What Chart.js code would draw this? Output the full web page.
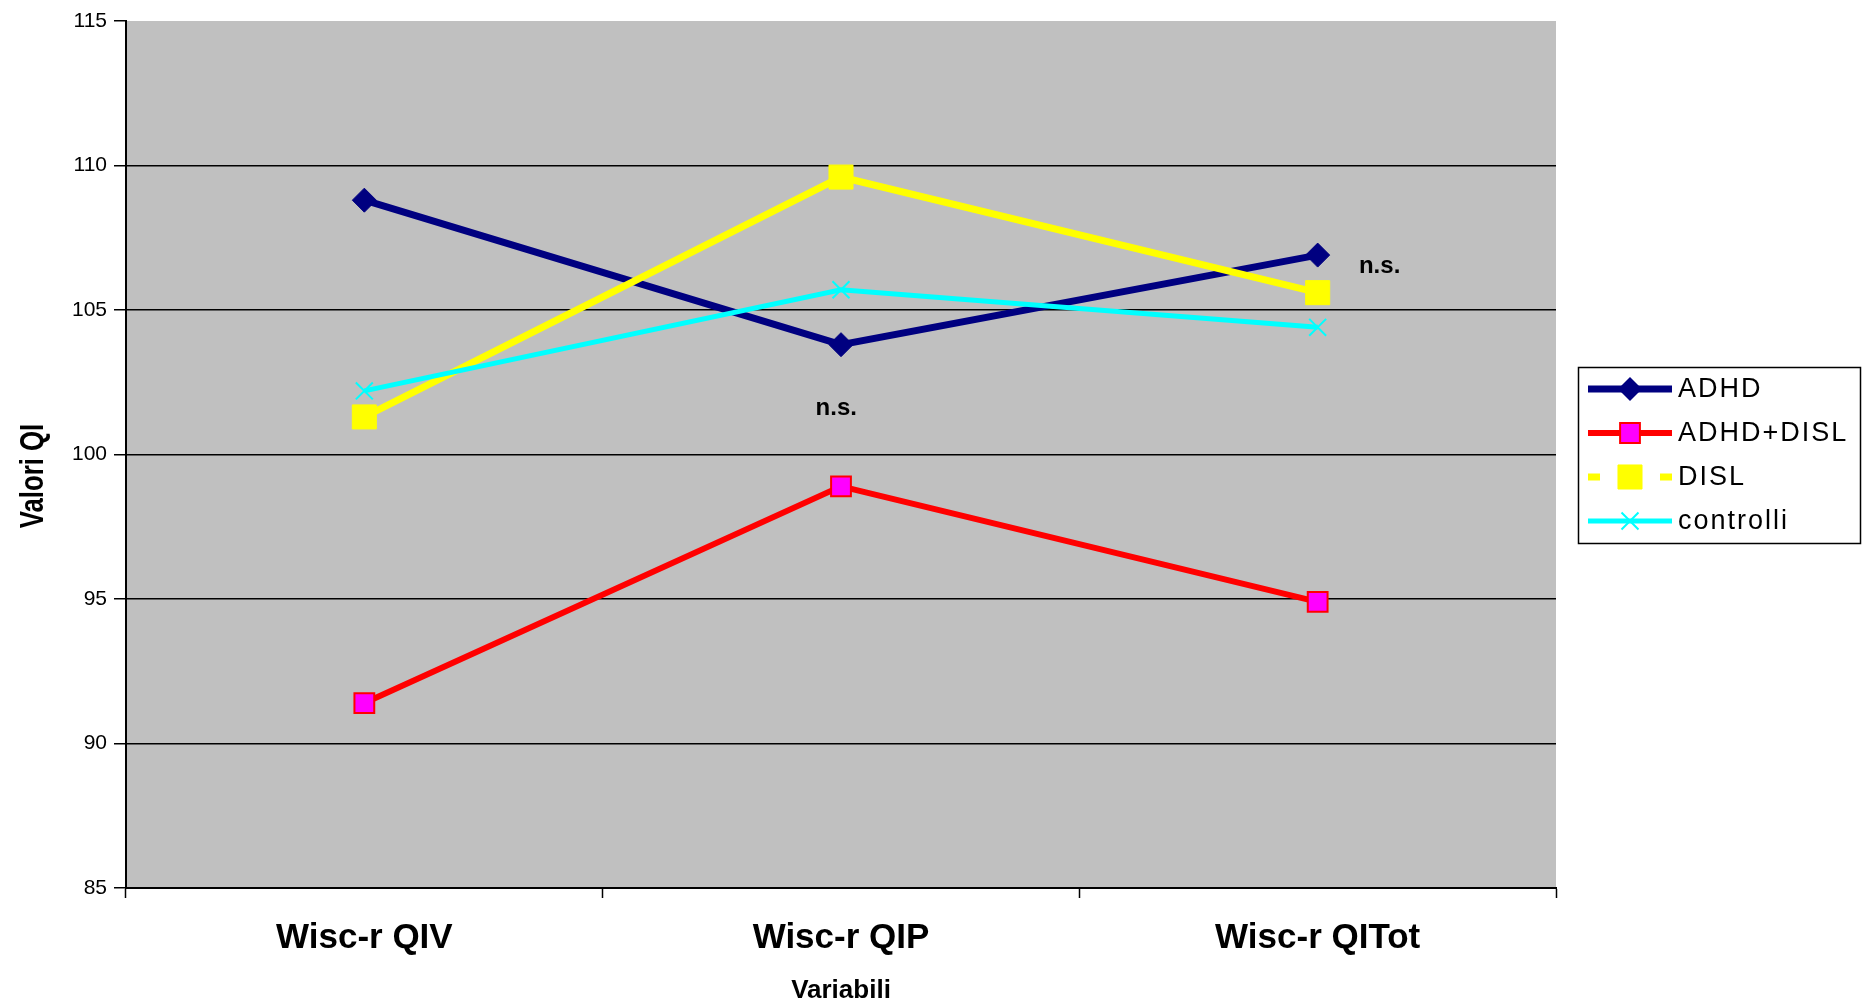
<!DOCTYPE html>
<html>
<head>
  <meta charset="UTF-8">
  <title>Valori QI</title>
  <script src="https://cdn.jsdelivr.net/npm/chart.js"></script>
  <style>
    body { margin: 0; background: #fff; }
    canvas { display: block; }
  </style>
</head>
<body>
  <canvas id="qiChart" width="1870" height="1006"></canvas>

  <script>
    // Dati
    const categorie = ['Wisc-r QIV', 'Wisc-r QIP', 'Wisc-r QITot'];
    const adhd = [108.8, 103.8, 106.9];
    const adhdDisl = [91.4, 98.9, 94.9];
    const disl = [101.3, 109.6, 105.6];
    const controlli = [102.2, 105.7, 104.4];
    const yMin = 85, yMax = 115, yStep = 5;

    // etichette "n.s." (indice categoria, valore QI)
    const noteTesto = ['n.s.', 'n.s.'];
    const noteX = [0.99, 2.13];
    const noteY = [101.6, 106.5];

    const FONT = '"Liberation Sans", Arial, sans-serif';

    // sfondo grigio dell'area del grafico
    const sfondo = {
      id: 'sfondo',
      beforeDraw(chart) {
        const { ctx, chartArea: a } = chart;
        ctx.save();
        ctx.fillStyle = '#C0C0C0';
        ctx.fillRect(a.left, a.top, a.right - a.left, a.bottom - a.top);
        ctx.restore();
      }
    };

    // scritte n.s. e titolo asse y (stretto e alto come nell'originale)
    const note = {
      id: 'note',
      afterDatasetsDraw(chart) {
        const { ctx, scales } = chart;
        ctx.save();
        ctx.font = 'bold 24px ' + FONT;
        ctx.fillStyle = '#000';
        ctx.textAlign = 'center';
        ctx.textBaseline = 'middle';
        noteTesto.forEach((t, i) => {
          ctx.fillText(t, scales.x.getPixelForValue(noteX[i]), scales.y.getPixelForValue(noteY[i]));
        });
        ctx.translate(34, 476);
        ctx.rotate(-Math.PI / 2);
        ctx.scale(0.78, 1);
        ctx.font = 'bold 33px ' + FONT;
        ctx.fillText('Valori QI', 0, 0);
        ctx.restore();
      }
    };

    function marker(ctx, stile, x, y, r) {
      ctx.beginPath();
      if (stile === 'rectRot') {
        ctx.moveTo(x - r, y); ctx.lineTo(x, y - r); ctx.lineTo(x + r, y); ctx.lineTo(x, y + r);
        ctx.closePath(); ctx.fill();
      } else if (stile === 'rect') {
        const s = r * Math.SQRT1_2;
        ctx.rect(x - s, y - s, 2 * s, 2 * s);
        ctx.fill(); ctx.stroke();
      } else if (stile === 'crossRot') {
        const s = r * Math.SQRT1_2;
        ctx.moveTo(x - s, y - s); ctx.lineTo(x + s, y + s);
        ctx.moveTo(x - s, y + s); ctx.lineTo(x + s, y - s);
        ctx.stroke();
      }
    }

    // legenda con riquadro, linea e simbolo
    const legenda = {
      id: 'legenda',
      afterDraw(chart) {
        const ctx = chart.ctx;
        ctx.save();
        ctx.fillStyle = '#fff';
        ctx.fillRect(1578, 367, 282, 176);
        ctx.strokeStyle = '#000';
        ctx.lineWidth = 1.5;
        ctx.strokeRect(1578.5, 367.5, 282, 176);
        chart.data.datasets.forEach((ds, i) => {
          const y = 389 + i * 44;
          ctx.strokeStyle = ds.borderColor;
          ctx.lineWidth = ds.borderWidth;
          ctx.setLineDash(ds.label === 'DISL' ? [12, 60] : []);
          ctx.beginPath(); ctx.moveTo(1588, y); ctx.lineTo(1672, y); ctx.stroke();
          ctx.setLineDash([]);
          ctx.fillStyle = ds.pointBackgroundColor;
          ctx.strokeStyle = ds.pointBorderColor;
          ctx.lineWidth = ds.pointBorderWidth;
          marker(ctx, ds.pointStyle, 1630, y, ds.pointRadius);
          ctx.fillStyle = '#000';
          ctx.font = '27px ' + FONT;
          ctx.letterSpacing = '2px';
          ctx.textBaseline = 'middle';
          ctx.fillText(ds.label, 1678, y + 1);
          ctx.letterSpacing = '0px';
        });
        ctx.restore();
      }
    };

    new Chart(document.getElementById('qiChart'), {
      type: 'line',
      data: {
        labels: categorie,
        datasets: [
          { label: 'ADHD', data: adhd, borderColor: '#000080', borderWidth: 7,
            pointStyle: 'rectRot', pointRadius: 12, pointBackgroundColor: '#000080',
            pointBorderColor: '#000080', pointBorderWidth: 1, order: 4 },
          { label: 'ADHD+DISL', data: adhdDisl, borderColor: '#FF0000', borderWidth: 6,
            pointStyle: 'rect', pointRadius: 14, pointBackgroundColor: '#FF00FF',
            pointBorderColor: '#FF0000', pointBorderWidth: 2, order: 3 },
          { label: 'DISL', data: disl, borderColor: '#FFFF00', borderWidth: 7,
            pointStyle: 'rect', pointRadius: 17, pointBackgroundColor: '#FFFF00',
            pointBorderColor: '#FFFF00', pointBorderWidth: 1, order: 2 },
          { label: 'controlli', data: controlli, borderColor: '#00FFFF', borderWidth: 5,
            pointStyle: 'crossRot', pointRadius: 12, pointBackgroundColor: '#00FFFF',
            pointBorderColor: '#00FFFF', pointBorderWidth: 2, order: 1 }
        ]
      },
      options: {
        responsive: false,
        animation: false,
        layout: { padding: { top: 21, right: 314, left: 0, bottom: 0 } },
        elements: { line: { tension: 0 } },
        plugins: { legend: { display: false }, tooltip: { enabled: false } },
        scales: {
          x: {
            offset: true,
            afterFit: s => { s.height = 118; },
            grid: { offset: true, drawOnChartArea: false, tickLength: 10, tickColor: '#000', tickWidth: 1.5 },
            border: { color: '#000', width: 2 },
            ticks: { color: '#000', font: { family: FONT, size: 35, weight: 'bold' }, padding: 19 },
            title: { display: true, text: 'Variabili', color: '#000',
                     font: { family: FONT, size: 26, weight: 'bold' }, padding: { top: 0, bottom: 0 } }
          },
          y: {
            min: yMin, max: yMax,
            afterFit: s => { s.width = 126; },
            grid: {
              color: c => (c.tick && c.tick.value === yMax) ? 'rgba(0,0,0,0)' : '#000',
              lineWidth: 1.5, tickLength: 12, tickColor: '#000'
            },
            border: { color: '#000', width: 2 },
            ticks: { stepSize: yStep, color: '#000', font: { family: FONT, size: 21 }, padding: 7 }
          }
        }
      },
      plugins: [sfondo, note, legenda]
    });
  </script>
</body>
</html>
